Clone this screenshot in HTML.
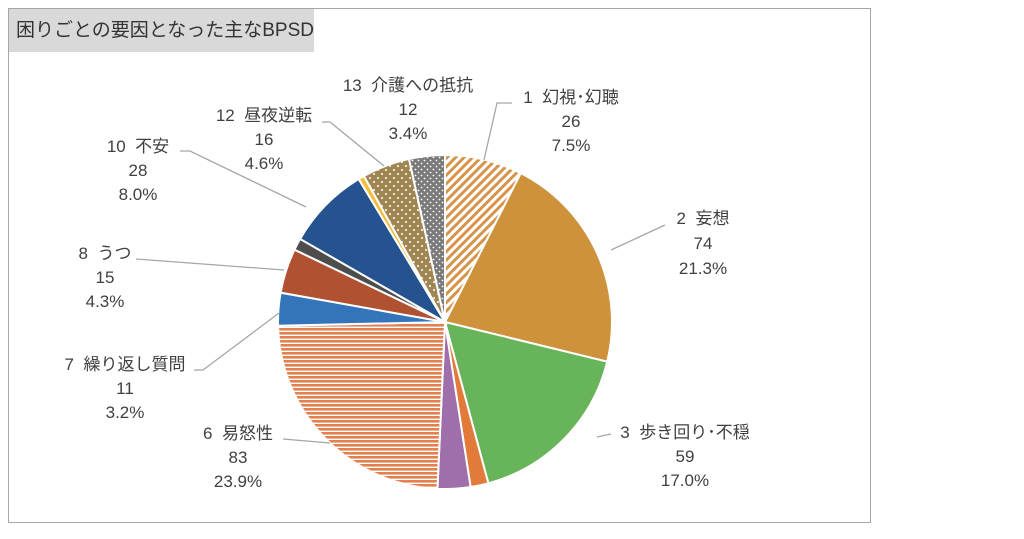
<!DOCTYPE html>
<html><head><meta charset="utf-8"><style>
html,body{margin:0;padding:0;background:#fff;width:1024px;height:539px;overflow:hidden}
.frame{position:absolute;left:8px;top:8px;width:863px;height:515px;border:1px solid #a6a6a6;box-sizing:border-box}
.title{position:absolute;left:9px;top:9px;width:305px;height:43px;background:#d9d9d9;font:19px "Liberation Sans","Noto Sans CJK JP",sans-serif;color:#333;line-height:43px;padding-left:7px;box-sizing:border-box}
svg{position:absolute;left:0;top:0}
svg text{font-family:"Liberation Sans","Noto Sans CJK JP",sans-serif;font-size:17px;fill:#404040;text-anchor:middle}
</style></head><body>
<div class="frame"></div>
<div class="title">困りごとの要因となった主なBPSD</div>
<svg id="s" width="1024" height="539" xmlns="http://www.w3.org/2000/svg">
<defs>
<pattern id="diag" width="6" height="6" patternUnits="userSpaceOnUse" patternTransform="rotate(45)">
<rect width="6" height="6" fill="#fff"/><rect width="3" height="6" fill="#d4954a"/></pattern>
<pattern id="hstr" width="4" height="4" patternUnits="userSpaceOnUse">
<rect width="4" height="4" fill="#fff"/><rect width="4" height="2.6" fill="#e47f4f"/></pattern>
<pattern id="dot1" width="8" height="8" patternUnits="userSpaceOnUse">
<rect width="8" height="8" fill="#a08652"/><circle cx="2" cy="2" r="1" fill="#fff"/><circle cx="6" cy="6" r="1" fill="#fff"/></pattern>
<pattern id="dot2" width="6" height="6" patternUnits="userSpaceOnUse">
<rect width="6" height="6" fill="#7a7a7a"/><circle cx="1.5" cy="1.5" r="0.9" fill="#fff"/><circle cx="4.5" cy="4.5" r="0.9" fill="#fff"/></pattern>
</defs>
<g id="pie"></g>
<g stroke="#a6a6a6" stroke-width="1.3" fill="none">
<polyline points="484,160 497,103 512,103"/>
<polyline points="611,250 665,225"/>
<polyline points="597,437 611,434"/>
<polyline points="330,443 283,439"/>
<polyline points="279,313 203,370 194,370"/>
<polyline points="284,270 136,259"/>
<polyline points="306,207 190,151 180,151"/>
<polyline points="384,166 330,122 322,122"/>
</g>
<text x="408" y="91">13&#160;&#160;介護への抵抗</text><text x="408" y="115">12</text><text x="408" y="139">3.4%</text>
<text x="571" y="103">1&#160;&#160;幻視･幻聴</text><text x="571" y="127">26</text><text x="571" y="151">7.5%</text>
<text x="264" y="121">12&#160;&#160;昼夜逆転</text><text x="264" y="145">16</text><text x="264" y="169">4.6%</text>
<text x="138" y="152">10&#160;&#160;不安</text><text x="138" y="176">28</text><text x="138" y="200">8.0%</text>
<text x="703" y="224">2&#160;&#160;妄想</text><text x="703" y="249">74</text><text x="703" y="274">21.3%</text>
<text x="105" y="259">8&#160;&#160;うつ</text><text x="105" y="283">15</text><text x="105" y="307">4.3%</text>
<text x="125" y="370">7&#160;&#160;繰り返し質問</text><text x="125" y="394">11</text><text x="125" y="418">3.2%</text>
<text x="238" y="439">6&#160;&#160;易怒性</text><text x="238" y="463">83</text><text x="238" y="487">23.9%</text>
<text x="685" y="438">3&#160;&#160;歩き回り･不穏</text><text x="685" y="462">59</text><text x="685" y="486">17.0%</text>
</svg>
<script>
var d=[[26,"url(#diag)"],[74,"#ce923d"],[59,"#67b45a"],[6,"#e27b3a"],[11,"#9e6fab"],[83,"url(#hstr)"],[11,"#3374ba"],[15,"#b05232"],[4,"#4d4d4d"],[28,"#24538f"],[2,"#f2be3e"],[16,"url(#dot1)"],[12,"url(#dot2)"]];
var T=347,cx=445,cy=322,r=167,a=0,g=document.getElementById("pie"),h="";
d.forEach(function(s){var a2=a+s[0]/T*2*Math.PI;
var x1=cx+r*Math.sin(a),y1=cy-r*Math.cos(a),x2=cx+r*Math.sin(a2),y2=cy-r*Math.cos(a2);
h+='<path d="M'+cx+','+cy+'L'+x1.toFixed(2)+','+y1.toFixed(2)+'A'+r+','+r+' 0 '+(a2-a>Math.PI?1:0)+' 1 '+x2.toFixed(2)+','+y2.toFixed(2)+'Z" fill="'+s[1]+'" stroke="#fff" stroke-width="2"/>';a=a2;});
g.innerHTML=h;
</script>
</body></html>
